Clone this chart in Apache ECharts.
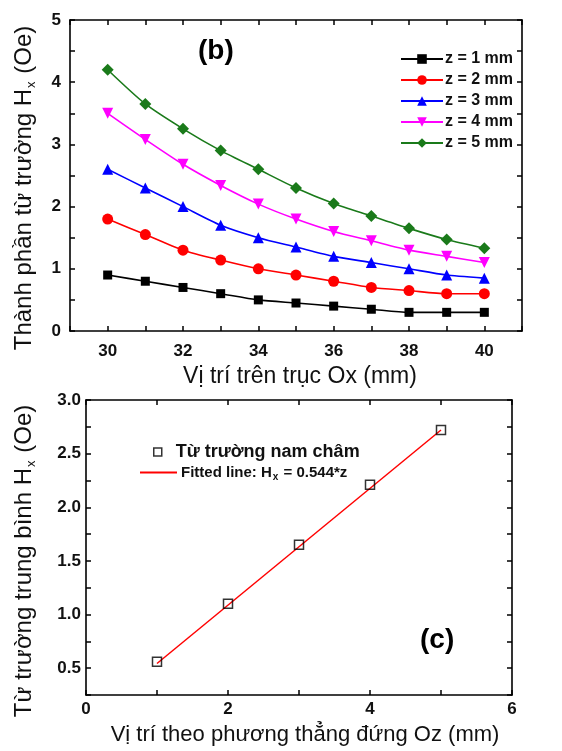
<!DOCTYPE html>
<html>
<head>
<meta charset="utf-8">
<script src="https://cdn.jsdelivr.net/npm/echarts@6/dist/echarts.min.js"></script>
<style>
html,body{margin:0;padding:0;background:#fff;}
#c{width:562px;height:751px;}
</style>
</head>
<body>
<div id="c"></div>
<script>
// ---- Data: panel (b) ----
const xPos = [30, 31, 32, 33, 34, 35, 36, 37, 38, 39, 40];
const z1 = [0.90, 0.80, 0.70, 0.60, 0.50, 0.45, 0.40, 0.35, 0.30, 0.30, 0.30];
const z2 = [1.80, 1.55, 1.30, 1.14, 1.00, 0.90, 0.80, 0.70, 0.65, 0.60, 0.60];
const z3 = [2.60, 2.30, 2.00, 1.70, 1.50, 1.35, 1.20, 1.10, 1.00, 0.90, 0.85];
const z4 = [3.50, 3.08, 2.68, 2.34, 2.04, 1.80, 1.60, 1.45, 1.30, 1.20, 1.10];
const z5 = [4.20, 3.65, 3.25, 2.90, 2.60, 2.30, 2.05, 1.85, 1.65, 1.47, 1.33];
const seriesNames = ['z = 1 mm', 'z = 2 mm', 'z = 3 mm', 'z = 4 mm', 'z = 5 mm'];

// ---- Data: panel (c) ----
const zPos = [1, 2, 3, 4, 5];
const hMean = [0.56, 1.10, 1.65, 2.21, 2.72];
const fitZ = [1, 5];
const fitH = [0.544, 2.72];
const fitName = 'Fitted line: Hx = 0.544*z';
const pointName = 'Từ trường nam châm';

const FONT = 'Arial, "Liberation Sans", sans-serif';
const pair = (xs, ys) => xs.map((x, i) => [x, ys[i]]);

const chart = echarts.init(document.getElementById('c'), null, {renderer: 'canvas'});

const axisLine = {show: true, onZero: false, lineStyle: {color: '#000', width: 1.6}};
const tickIn = {show: true, inside: true, length: 5, lineStyle: {color: '#000', width: 1.5}};
const lblStyle = {color: '#111', fontWeight: 'bold', fontSize: 17, fontFamily: FONT};

const colors = ['#000000', '#ff0000', '#0000ff', '#ff00ff', '#1a7a1a'];
const symbols = ['rect', 'circle', 'triangle', 'triangle', 'diamond'];
const symSizes = [9, 11, 11, 11, 12];
const rotations = [0, 0, 0, 180, 0];
const zData = [z1, z2, z3, z4, z5];

const topSeries = zData.map((d, i) => ({
  name: seriesNames[i],
  type: 'line',
  xAxisIndex: 0, yAxisIndex: 0,
  data: pair(xPos, d),
  smooth: 0.25,
  symbol: symbols[i],
  symbolSize: symSizes[i],
  symbolRotate: rotations[i],
  lineStyle: {color: colors[i], width: 1.6},
  itemStyle: {color: colors[i]},
  z: 5 + i
}));

const option = {
  animation: false,
  backgroundColor: '#fff',
  grid: [
    {left: 70, right: 40, top: 20, bottom: 420, containLabel: false},
    {left: 86, right: 50, top: 400, bottom: 56, containLabel: false}
  ],
  xAxis: [
    {gridIndex: 0, type: 'value', position: 'bottom', min: 29, max: 41, interval: 1,
     axisLine: axisLine, axisTick: tickIn, splitLine: {show: false},
     axisLabel: Object.assign({}, lblStyle, {margin: 12, formatter: v => (v % 2 === 0 ? String(v) : '')})},
    {gridIndex: 0, type: 'value', position: 'top', min: 29, max: 41, interval: 1,
     axisLine: axisLine, axisTick: tickIn, splitLine: {show: false}, axisLabel: {show: false}},
    {gridIndex: 1, type: 'value', position: 'bottom', min: 0, max: 6, interval: 1,
     axisLine: axisLine, axisTick: tickIn, splitLine: {show: false},
     axisLabel: Object.assign({}, lblStyle, {margin: 6, formatter: v => (v % 2 === 0 ? String(v) : '')})},
    {gridIndex: 1, type: 'value', position: 'top', min: 0, max: 6, interval: 1,
     axisLine: axisLine, axisTick: tickIn, splitLine: {show: false}, axisLabel: {show: false}}
  ],
  yAxis: [
    {gridIndex: 0, type: 'value', position: 'left', min: 0, max: 5, interval: 0.5,
     axisLine: axisLine, axisTick: tickIn, splitLine: {show: false},
     axisLabel: Object.assign({}, lblStyle, {margin: 9, formatter: v => (Math.abs(v - Math.round(v)) < 1e-6 ? String(Math.round(v)) : '')})},
    {gridIndex: 0, type: 'value', position: 'right', min: 0, max: 5, interval: 0.5,
     axisLine: axisLine, axisTick: tickIn, splitLine: {show: false}, axisLabel: {show: false}},
    {gridIndex: 1, type: 'value', position: 'left', min: 0.25, max: 3, interval: 0.25,
     axisLine: axisLine, axisTick: tickIn, splitLine: {show: false},
     axisLabel: Object.assign({}, lblStyle, {margin: 5, formatter: v => (Math.abs(v * 2 - Math.round(v * 2)) < 1e-6 ? v.toFixed(1) : '')})},
    {gridIndex: 1, type: 'value', position: 'right', min: 0.25, max: 3, interval: 0.25,
     axisLine: axisLine, axisTick: tickIn, splitLine: {show: false}, axisLabel: {show: false}}
  ],
  legend: [
    {
      data: seriesNames,
      orient: 'vertical',
      left: 395, top: 46,
      itemWidth: 42, itemHeight: 12, itemGap: 5,
      textStyle: {fontSize: 16, fontWeight: 'bold', color: '#111', fontFamily: FONT, padding: [0, 0, 0, -3]},
      selectedMode: false
    },
    {
      data: [{name: pointName, icon: 'rect', itemStyle: {color: '#fff', borderColor: '#000', borderWidth: 1.5}}],
      orient: 'vertical',
      left: 148, top: 438,
      itemWidth: 8, itemHeight: 8,
      textStyle: {fontSize: 18, fontWeight: 'bold', color: '#111', fontFamily: FONT, padding: [0, 0, 0, 9]},
      selectedMode: false
    },
    {
      data: [{name: fitName, icon: 'rect', itemStyle: {color: '#ff0000'}}],
      orient: 'vertical',
      left: 135, top: 460,
      itemWidth: 37, itemHeight: 2,
      formatter: function () { return '{a|Fitted line: H}{s|x}{a| = 0.544*z}'; },
      textStyle: {
        color: '#111', fontFamily: FONT,
        padding: [0, 0, 0, -1],
        rich: {
          a: {fontSize: 15, fontWeight: 'bold', color: '#111', fontFamily: FONT},
          s: {fontSize: 10, fontWeight: 'bold', color: '#111', fontFamily: FONT, padding: [10, 1, 0, 1]}
        }
      },
      selectedMode: false
    }
  ],
  series: topSeries.concat([
    {
      name: pointName, type: 'scatter', xAxisIndex: 2, yAxisIndex: 2,
      data: pair(zPos, hMean),
      symbol: 'rect', symbolSize: 9,
      itemStyle: {color: 'rgba(255,255,255,0)', borderColor: '#000', borderWidth: 1.5},
      z: 6
    },
    {
      name: fitName, type: 'line', xAxisIndex: 2, yAxisIndex: 2,
      data: pair(fitZ, fitH),
      showSymbol: false, symbol: 'none',
      lineStyle: {color: '#ff0000', width: 1.5},
      itemStyle: {color: '#ff0000'},
      z: 5
    }
  ]),
  graphic: [
    {type: 'text', left: 198, top: 37, style: {text: '(b)', fontSize: 28, fontWeight: 'bold', fill: '#000', fontFamily: FONT}},
    {type: 'text', left: 420, top: 626, style: {text: '(c)', fontSize: 28, fontWeight: 'bold', fill: '#000', fontFamily: FONT}},
    {type: 'text', x: 300, y: 377, style: {text: 'Vị trí trên trục Ox (mm)', fontSize: 23, fill: '#111', fontFamily: FONT, align: 'center', verticalAlign: 'middle'}},
    {type: 'text', x: 305, y: 735, style: {text: 'Vị trí theo phương thẳng đứng Oz (mm)', fontSize: 22, fill: '#111', fontFamily: FONT, align: 'center', verticalAlign: 'middle'}},
    {type: 'text', x: 24, y: 188, rotation: Math.PI / 2,
     style: {text: '{a|Thành phần từ trường H}{s|x}{a| (Oe)}', align: 'center', verticalAlign: 'middle',
       rich: {a: {fontSize: 24, fill: '#111', fontFamily: FONT}, s: {fontSize: 13, fill: '#111', fontFamily: FONT, padding: [14, 1, 0, 1]}}}},
    {type: 'text', x: 24, y: 561, rotation: Math.PI / 2,
     style: {text: '{a|Từ trường trung bình H}{s|x}{a| (Oe)}', align: 'center', verticalAlign: 'middle',
       rich: {a: {fontSize: 24, fill: '#111', fontFamily: FONT}, s: {fontSize: 13, fill: '#111', fontFamily: FONT, padding: [14, 1, 0, 1]}}}}
  ]
};
chart.setOption(option);
</script>
</body>
</html>
